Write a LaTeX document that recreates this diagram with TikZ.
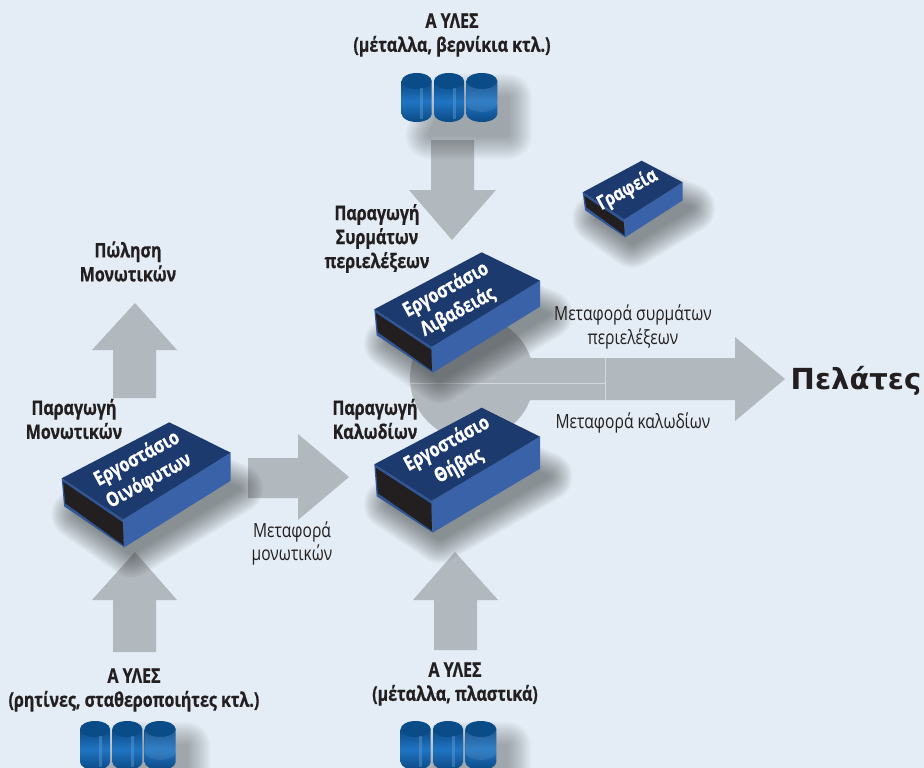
\documentclass[tikz,border=0pt]{standalone}
\usepackage{fontspec}
\setmainfont[FakeStretch=0.8,BoldFeatures={FakeBold=0.7}]{Open Sans}
\newfontfamily\pelfont{DejaVu Sans}
\usetikzlibrary{calc}
\definecolor{bgc}{HTML}{E4EDF5}
\definecolor{arrowc}{HTML}{B1B8BE}
\definecolor{topc}{HTML}{1C3A6E}
\definecolor{sidec}{HTML}{3A62A8}
\definecolor{darkc}{HTML}{231F20}
\definecolor{capc}{HTML}{0A4C87}
\definecolor{barc}{HTML}{0E5CA6}
\definecolor{barl}{HTML}{1F74C2}
\tikzset{
  bigarrow/.style={fill=arrowc,draw=none},
  lab/.style={align=center,text=darkc,font=\bfseries\fontsize{20}{24}\selectfont,inner sep=0pt},
  thin lab/.style={align=center,text=darkc,font=\fontsize{19.5}{23.5}\selectfont,inner sep=0pt},
  boxtext/.style={align=center,text=white,font=\bfseries\fontsize{#1}{25}\selectfont,inner sep=0pt,rotate=28.5},
  boxtext/.default=20
}
% soft shadow: stacked uniform layers with growing outline
\newcommand{\softshadow}[2][0.05]{%
  \foreach \w in {48,44,40,36,32,28,24,20,16,12,8,4}{
    \begin{scope}[transparency group,opacity=#1]
      \path (0,0) rectangle (924,768);
      \fill[black!75!arrowc,line join=round,draw=black!75!arrowc,line width=\w pt] #2 -- cycle;
    \end{scope}
  }}
% top, right, near, left, depth
\newcommand{\matchbx}[5]{%
  \begin{scope}
  \coordinate (T) at #1; \coordinate (R) at #2; \coordinate (N) at #3; \coordinate (L) at #4;
  \softshadow{($(T)+(12,14+#5)$) -- ($(R)+(8,8+#5)$) -- ($(N)+(8,6+#5)$) -- ($(L)+(14,8+#5)$)}
  \fill[sidec] (R) -- ($(R)+(0,#5)$) -- ($(N)+(1,#5)$) -- (N) -- cycle;
  \fill[sidec!70!topc] (N) -- ($(N)+(1,#5)$) -- ($(L)+(2.4,#5)$) -- (L) -- cycle;
  \fill[darkc] ($(N)+(-.5,3)$) -- ($(N)+(.3,#5-2)$) -- ($(L)+(3.6,#5-3)$) -- ($(L)+(1.5,3.5)$) -- cycle;
  \fill[topc] (T) -- (R) -- (N) -- (L) -- cycle;
  \end{scope}}
% left x, top y, width, height
\newcommand{\barrelbody}[4]{%
  \pgfmathsetmacro{\xr}{#1+#3}\pgfmathsetmacro{\xm}{#1+#3/2}\pgfmathsetmacro{\rx}{#3/2}
  \pgfmathsetmacro{\yc}{#2+8}\pgfmathsetmacro{\yb}{#2+#4-8}
  \shade[left color=barc!80!black,right color=barc!80!black,middle color=barl,shading angle=0]
    (#1,\yc) -- (#1,\yb) arc[start angle=180,end angle=0,x radius=\rx,y radius=8] -- (\xr,\yc) -- cycle;
  \fill[capc] (\xm,\yc) ellipse[x radius=\rx,y radius=8];
}
\newcommand{\barrelA}[4]{%
  \barrelbody{#1}{#2}{#3}{#4}
  \fill[barl!60!white,opacity=.35] (#1+#3*0.62,#2+15) rectangle (#1+#3*0.72,#2+#4-3);
}
\newcommand{\barrelB}[4]{%
  \barrelbody{#1}{#2}{#3}{#4}
  \pgfmathsetmacro{\yq}{#2+#4-18}
  \fill[white,opacity=.09] (#1,\yc) arc[start angle=180,end angle=0,x radius=\rx,y radius=8] -- (\xr,\yq)
     arc[start angle=0,end angle=180,x radius=\rx,y radius=8] -- cycle;
}
\newcommand{\barrels}[2]{%
  \softshadow[0.034]{(#1+45,#2+25) -- (#1+106,#2+25) -- (#1+106,#2+62) -- (#1+28,#2+62)}
  \barrelA{#1}{#2}{30}{49}
  \barrelA{#1+32.3}{#2}{30}{49}
  \barrelB{#1+64.6}{#2}{31}{49}
}
\begin{document}
\begin{tikzpicture}[x=1pt,y=-1pt]
\useasboundingbox (0,0) rectangle (924,768);
\fill[bgc] (0,0) rectangle (924,768);

% block arrows
\fill[bigarrow] (431,140) -- (474,140) -- (474,190) -- (496,190) -- (452,240) -- (409,190) -- (431,190) -- cycle;
\fill[bigarrow] (113,398) -- (156,398) -- (156,350) -- (177,350) -- (135,303) -- (92,350) -- (113,350) -- cycle;
\fill[bigarrow] (248,458) -- (298,458) -- (298,434) -- (349,477) -- (298,520) -- (298,498) -- (248,498) -- cycle;
\fill[bigarrow] (113,652) -- (156,652) -- (156,600) -- (177,600) -- (135,552) -- (92,600) -- (113,600) -- cycle;
\fill[bigarrow] (434,650) -- (477,650) -- (477,600) -- (498,600) -- (455,552) -- (413,600) -- (434,600) -- cycle;
\fill[bigarrow] (472,378) circle[radius=62];
\fill[bigarrow] (525,358) -- (735,358) -- (735,337) -- (785,379) -- (735,421) -- (735,400) -- (525,400) -- cycle;
\draw[white!45!arrowc,line width=.5pt] (410,383) -- (605,383);
\draw[white!45!arrowc,line width=.5pt] (605,358) -- (605,400);

% barrels
\barrels{401.7}{73}
\barrels{80}{721}
\barrels{400.7}{721}

% buildings
\matchbx{(481.7,252.3)}{(540,280.7)}{(431.7,346.7)}{(374.3,309.3)}{26}
\matchbx{(481.7,407.7)}{(540,436.7)}{(431.7,500.7)}{(374.3,464.3)}{32}
\matchbx{(169.3,422.3)}{(230.7,452.7)}{(123.3,519.3)}{(61.7,478.3)}{28}
\matchbx{(641.7,160.7)}{(682.7,182.3)}{(624.3,219.3)}{(582.7,192.3)}{18}

\node[boxtext] (liv) at (452,301) {Εργοστάσιο\\Λιβαδειάς};
\node[boxtext] (thi) at (453,455) {Εργοστάσιο\\Θήβας};
\node[boxtext] (oin) at (143,470) {Εργοστάσιο\\Οινόφυτων};
\node[boxtext=19.5] (gra) at (627.5,190) {Γραφεία};

% labels
\node[lab] (t1) at (452,35) {Α ΥΛΕΣ\\(μέταλλα, βερνίκια κτλ.)};
\node[lab] (t2) at (377,238.5) {Παραγωγή\\Συρμάτων\\περιελέξεων};
\node[lab] (t3) at (128,261.5) {Πώληση\\Μονωτικών};
\node[lab] (t4) at (74,419) {Παραγωγή\\Μονωτικών};
\node[lab] (t5) at (375,419) {Παραγωγή\\Καλωδίων};
\node[lab] (t6) at (134,690) {Α ΥΛΕΣ\\(ρητίνες, σταθεροποιήτες κτλ.)};
\node[lab] (t7) at (455,684) {Α ΥΛΕΣ\\(μέταλλα, πλαστικά)};
\node[thin lab] (m1) at (633,327) {Μεταφορά συρμάτων\\περιελέξεων};
\node[thin lab] (m2) at (633,423) {Μεταφορά καλωδίων};
\node[thin lab] (m3) at (292,543.5) {Μεταφορά\\μονωτικών};
\node[inner sep=0pt,text=darkc,font=\pelfont\bfseries\fontsize{29}{32}\selectfont] (pel) at (856,381) {Πελάτες};
\end{tikzpicture}
\end{document}
